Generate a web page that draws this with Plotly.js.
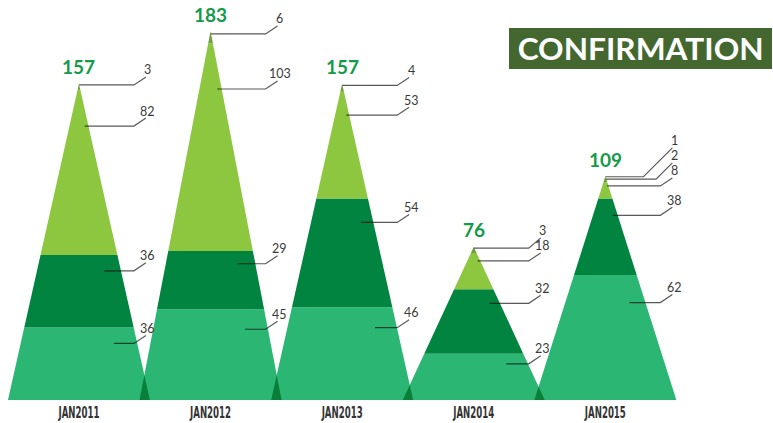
<!DOCTYPE html>
<html>
<head>
<meta charset="utf-8">
<script src="https://cdn.plot.ly/plotly-3.0.1.min.js"></script>
<style>
html,body{margin:0;padding:0;background:#fff;}
#chart{width:773px;height:423px;}
</style>
</head>
<body>
<div id="chart"></div>
<script>
// ---- data ----
const categories = ['JAN2011', 'JAN2012', 'JAN2013', 'JAN2014', 'JAN2015'];
const totals = [157, 183, 157, 76, 109];
const seg1 = [36, 45, 46, 23, 62];   // bottom layer
const seg2 = [36, 29, 54, 32, 38];
const seg3 = [82, 103, 53, 18, 8];
const seg4 = [3, 6, 4, 3, 2];
const seg5 = [0, 0, 0, 0, 1];        // top tip

// ---- styles ----
const segColors = ['#2cb673', '#00843f', '#8dc63f', '#6f9e3a', '#6f9e3a'];
const overlapColor = '#08803a';
const W = 773, H = 423, mB = 23;
const plotH = H - mB;
const xRange = [-0.6, 5.274];
const yRange = [0, 198.5];
const kx = W / (xRange[1] - xRange[0]);       // px per x unit
const ky = plotH / (yRange[1] - yRange[0]);   // px per y unit
const hw = 71 / kx;                           // half base width (x units)

const segs = [seg1, seg2, seg3, seg4, seg5];
const traces = [];
const annotations = [];
const lx = [], ly = [];

const halfAt = (y, T) => hw * (1 - y / T);

categories.forEach((cat, i) => {
  const vals = segs.map(s => s[i]);
  const T = vals.reduce((a, b) => a + b, 0);
  let base = 0;
  const lines = [];
  vals.forEach((v, k) => {
    if (v <= 0) return;
    const y0 = base, y1 = base + v;
    const h0 = halfAt(y0, T), h1 = halfAt(y1, T);
    traces.push({
      type: 'scatter', mode: 'lines', fill: 'toself',
      x: [i - h0, i + h0, i + h1, i - h1, i - h0],
      y: [y0, y0, y1, y1, y0],
      line: {width: 0, color: segColors[k]},
      fillcolor: segColors[k], hoverinfo: 'skip', showlegend: false
    });
    const lineY = y0 + 0.78 * v;
    lines.push({v, lineY});
    base = y1;
  });
  // label placement (px above line), avoid collisions bottom-up
  let prevLabelPx = -1e9;
  lines.forEach(L => {
    const linePx = L.lineY * ky;
    let labPx = linePx + 15;
    if (labPx < prevLabelPx + 15) labPx = prevLabelPx + 15;
    prevLabelPx = labPx;
    const endPx = labPx - 7;
    const rise = endPx - linePx;
    const endX = i + 67 / kx;
    const elbowX = endX - Math.max(12, rise) / kx;
    const startX = i + 0.6 * halfAt(L.lineY, T);
    lx.push(startX, elbowX, endX, null);
    ly.push(L.lineY, L.lineY, endPx / ky, null);
    annotations.push({
      x: i + 69 / kx, y: labPx / ky, xref: 'x', yref: 'y',
      text: String(L.v), showarrow: false, xanchor: 'center', yanchor: 'middle',
      borderpad: 0,
      font: {family: 'Lato, sans-serif', size: 12.5, color: '#3a3a3a'}
    });
  });
  annotations.push({
    x: i, y: T, xref: 'x', yref: 'y', text: '<b>' + totals[i] + '</b>',
    showarrow: false, xanchor: 'center', yanchor: 'middle', yshift: 17,
    font: {family: 'Lato, sans-serif', size: 19, color: '#139a4a'}
  });
});

// overlap slivers between neighbouring triangles
const Ts = categories.map((c, i) => segs.reduce((a, s) => a + s[i], 0));
for (let i = 0; i < categories.length - 1; i++) {
  const yTop = (2 * hw - 1) / (hw * (1 / Ts[i] + 1 / Ts[i + 1]));
  if (yTop <= 0) continue;
  const xTop = i + halfAt(yTop, Ts[i]);
  traces.push({
    type: 'scatter', mode: 'lines', fill: 'toself',
    x: [i + 1 - hw, i + hw, xTop, i + 1 - hw],
    y: [0, 0, yTop, 0],
    line: {width: 0, color: overlapColor}, fillcolor: overlapColor,
    hoverinfo: 'skip', showlegend: false
  });
}

traces.push({
  type: 'scatter', mode: 'lines', x: lx, y: ly, connectgaps: false,
  line: {color: 'rgba(10,10,10,0.68)', width: 1.2},
  hoverinfo: 'skip', showlegend: false
});

annotations.push({
  x: 640.5 / W, y: 1 - 48.5 / plotH, xref: 'paper', yref: 'paper',
  text: 'CONFIRMATION', showarrow: false, xanchor: 'center', yanchor: 'middle',
  font: {family: 'Lato, sans-serif', size: 30, color: '#ffffff', weight: 'bold'}
});

const layout = {
  width: W, height: H,
  margin: {l: 0, r: 0, t: 0, b: mB, pad: 0},
  paper_bgcolor: '#ffffff', plot_bgcolor: '#ffffff',
  showlegend: false,
  xaxis: {
    range: xRange, showgrid: false, zeroline: false, showline: false,
    tickmode: 'array', tickvals: categories.map((c, i) => i), ticktext: categories,
    ticks: '', fixedrange: true, ticklabelstandoff: 2,
    tickfont: {family: '"Liberation Sans Narrow", "DejaVu Sans Condensed", "Liberation Sans", sans-serif', size: 15, color: '#333', weight: 'bold'}
  },
  yaxis: {range: yRange, visible: false, fixedrange: true},
  shapes: [{
    type: 'rect', xref: 'paper', yref: 'paper',
    x0: 509 / W, x1: 772 / W, y0: 1 - 69 / plotH, y1: 1 - 28 / plotH,
    fillcolor: '#44672f', line: {width: 0}, layer: 'below'
  }],
  annotations: annotations
};

Plotly.newPlot('chart', traces, layout, {displayModeBar: false, staticPlot: true}).then(gd => {
  // condense tick labels and title text to the reference's widths
  gd.querySelectorAll('.xtick text').forEach(t => {
    t.setAttribute('textLength', '41');
    t.setAttribute('lengthAdjust', 'spacingAndGlyphs');
  });
  gd.querySelectorAll('.annotation-text').forEach(t => {
    if (t.textContent === 'CONFIRMATION') {
      t.setAttribute('textLength', '246');
      t.setAttribute('lengthAdjust', 'spacingAndGlyphs');
    }
  });
});
</script>
</body>
</html>
